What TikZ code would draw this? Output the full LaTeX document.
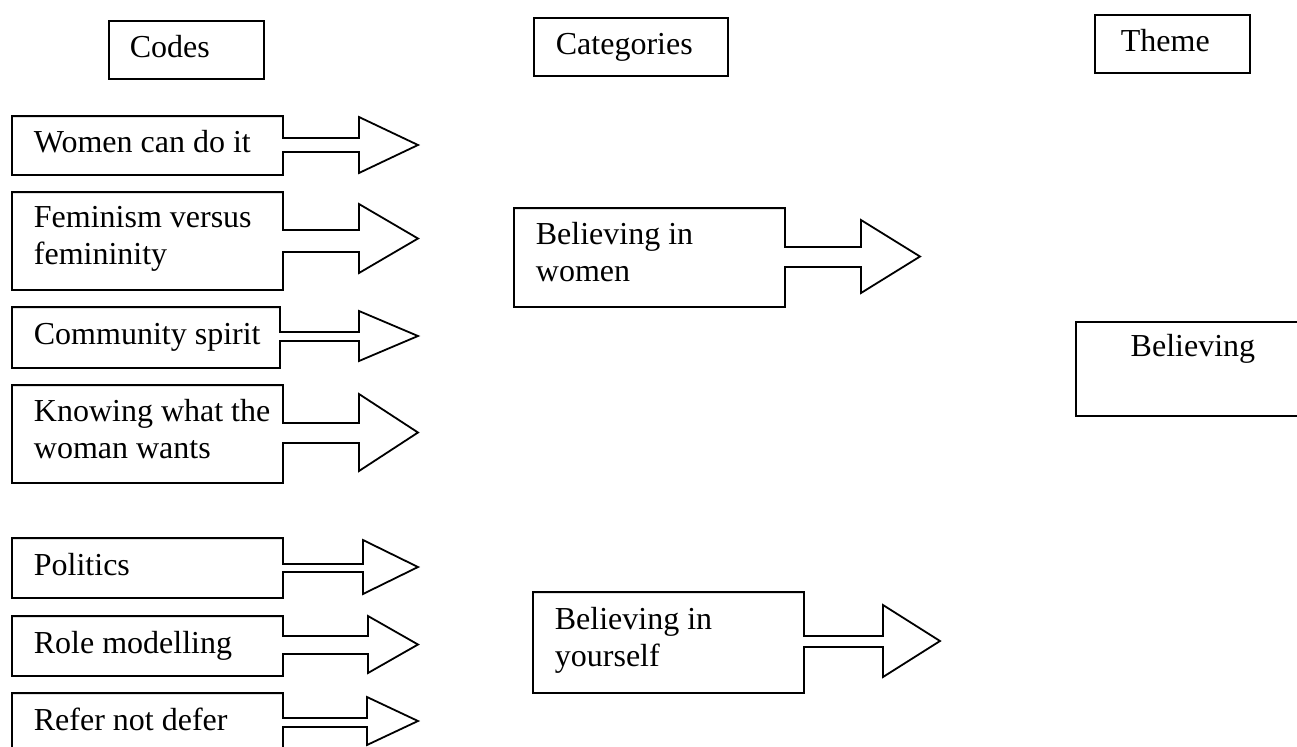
\documentclass[tikz,border=0pt]{standalone}
\usepackage{fontspec}
\setmainfont{Liberation Serif}
\usepackage{tikz}
\usetikzlibrary{calc}

% box with a hollow block arrow leaving its right side
% #1 node, #2 box right, #3/#4 shaft top/bottom, #5 head base, #6/#7 head top/bottom, #8 tip
\newcommand{\codearrow}[8]{%
  \draw [outline] (#1.south west) -- (#1.north west) -- (#2,0 |- #1.north)
    -- (#2,#3) -- (#5,#3) -- (#5,#6) -- (#8,{(#6+#7)/2}) -- (#5,#7)
    -- (#5,#4) -- (#2,#4) -- (#2,0 |- #1.south) -- cycle;
}

\begin{document}
\begin{tikzpicture}[
    x=0.5pt, y=-0.5pt,
    font=\fontsize{16pt}{18.5pt}\selectfont,
    line width=0.9pt,
    every node/.style={execute at begin node=\strut, execute at end node=\strut},
    outline/.style={line join=miter},
    codebox/.style={anchor=west, align=left, inner xsep=10.5pt, inner ysep=0pt, minimum height=#1},
    headbox/.style={draw, anchor=west, align=left, inner ysep=0pt, minimum height=29pt}
]
    \useasboundingbox (0,0) rectangle (1297,746);
    \clip (0,0) rectangle (1297,746);

    % Column headings
    \node [headbox, inner xsep=10.5pt, text width=56.5pt] (Codes) at (108,50) {Codes};
    \node [headbox, inner xsep=11pt, text width=75pt] (Categories) at (533,47) {Categories};
    \node [headbox, inner xsep=13pt, text width=51.5pt] (Theme) at (1094,44) {Theme};

    % Codes
    \node [codebox=28.5pt] (Women) at (12,145.5) {Women can do it};
    \node [codebox=48pt] (Feminism) at (12,241) {Feminism versus\\femininity};
    \node [codebox=29.5pt] (Community) at (12,337.5) {Community spirit};
    \node [codebox=48pt] (Knowing) at (12,434) {Knowing what the\\woman wants};
    \node [codebox=29pt] (Politics) at (12,568) {Politics};
    \node [codebox=29pt] (Role) at (12,646) {Role modelling};
    \node [codebox=29pt] (Refer) at (12,723) {Refer not defer};

    \codearrow{Women}{283}{138}{152}{359}{117}{173}{418}
    \codearrow{Feminism}{283}{230}{252}{359}{204}{273}{418}
    \codearrow{Community}{280}{332}{341}{359}{311}{361}{418}
    \codearrow{Knowing}{283}{423}{443}{359}{394}{471}{418}
    \codearrow{Politics}{283}{564}{572}{363}{540}{594}{418}
    \codearrow{Role}{283}{636}{654}{368}{616}{673}{418}
    \codearrow{Refer}{283}{718}{727}{367}{697}{745}{418}

    % Categories
    \node [codebox=48.5pt] (BelWomen) at (514,257.5) {Believing in\\women};
    \node [codebox=49.5pt] (BelSelf) at (533,642.5) {Believing in\\yourself};

    \codearrow{BelWomen}{785}{247}{267}{861}{220}{293}{920}
    \codearrow{BelSelf}{804}{636}{647}{883}{605}{677}{940}

    % Theme
    \node [draw, anchor=west, align=center, inner sep=0pt, minimum width=117pt, minimum height=47pt] (Believing) at (1075,369) {Believing\\};

\end{tikzpicture}
\end{document}
